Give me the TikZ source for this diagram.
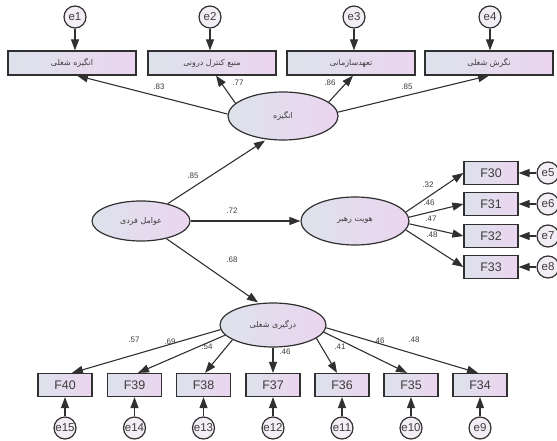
\documentclass[tikz,border=0pt]{standalone}
\usepackage{fontspec}
\setmainfont{Liberation Sans}
\newfontfamily\fa[Script=Arabic]{DejaVu Sans}
\TeXXeTstate=1
\usetikzlibrary{shapes.geometric,arrows.meta}
\definecolor{bl}{HTML}{DDE2EC}
\definecolor{pk}{HTML}{EBD5EF}
\definecolor{ln}{HTML}{303030}
\definecolor{tx}{HTML}{3C3C3C}
\definecolor{errfill}{HTML}{F3EEF5}
\tikzset{
 obs/.style={draw=ln, line width=1.2pt, left color=bl, right color=pk, minimum width=128bp, minimum height=24bp, inner sep=0pt, font=\fa\fontsize{8}{9}\selectfont, text=tx},
 obsf/.style={obs, minimum width=54bp, minimum height=23bp, font=\fontsize{12.5}{13}\selectfont},
 lat/.style={ellipse, draw=ln, line width=1.2pt, left color=bl, right color=pk, inner sep=0pt, font=\fa\fontsize{8}{9}\selectfont, text=tx},
 err/.style={circle, draw=ln, line width=1.2pt, fill=errfill, minimum size=22bp, inner sep=0pt, font=\fontsize{11.5}{12}\selectfont, text=tx},
 arr/.style={draw=ln, line width=1.1pt, -{Triangle[length=11bp,width=8bp]}},
 lab/.style={font=\fontsize{8}{9}\selectfont, text=tx, inner sep=0pt},
}
\begin{document}
\begin{tikzpicture}[x=1bp,y=-1bp]
\useasboundingbox (0,0) rectangle (557,441);
% top observed
\node[obs] (b1) at (72,63) {\beginR انگیزه شغلی\endR};
\node[obs] (b2) at (212,63) {\beginR منبع کنترل درونی\endR};
\node[obs] (b3) at (351,63) {\beginR تعهدسازمانی\endR};
\node[obs] (b4) at (489,63) {\beginR نگرش شغلی\endR};
\node[err] (e1) at (75,17) {e1};
\node[err] (e2) at (210,17) {e2};
\node[err] (e3) at (354,17) {e3};
\node[err] (e4) at (490,17) {e4};
% latents
\node[lat, minimum width=110bp, minimum height=48bp] (ang) at (283,116) {\beginR انگیزه\endR};
\node[lat, minimum width=98bp, minimum height=40bp] (ind) at (141,221) {\beginR عوامل فردی\endR};
\node[lat, minimum width=108bp, minimum height=48bp] (hv) at (355,221) {\beginR هویت رهبر\endR};
\node[lat, minimum width=106bp, minimum height=44bp] (drg) at (273,325) {\beginR درگیری شغلی\endR};
% right observed
\node[obsf] (F30) at (491,173) {F30};
\node[obsf] (F31) at (491,204) {F31};
\node[obsf] (F32) at (491,236) {F32};
\node[obsf] (F33) at (491,267) {F33};
\node[err] (e5) at (548,173) {e5};
\node[err] (e6) at (548,204) {e6};
\node[err] (e7) at (548,236) {e7};
\node[err] (e8) at (548,267) {e8};
% bottom observed
\node[obsf] (F40) at (65,385) {F40};
\node[obsf] (F39) at (134.5,385) {F39};
\node[obsf] (F38) at (203.5,385) {F38};
\node[obsf] (F37) at (273,385) {F37};
\node[obsf] (F36) at (342,385) {F36};
\node[obsf] (F35) at (411,385) {F35};
\node[obsf] (F34) at (480,385) {F34};
\node[err] (e15) at (65,428) {e15};
\node[err] (e14) at (134.5,428) {e14};
\node[err] (e13) at (203.5,428) {e13};
\node[err] (e12) at (273,428) {e12};
\node[err] (e11) at (342,428) {e11};
\node[err] (e10) at (411,428) {e10};
\node[err] (e9) at (480,428) {e9};
% error arrows
\foreach \e/\b in {e1/b1,e2/b2,e3/b3,e4/b4}{\draw[arr] (\e.south) -- (\e.south |- \b.north);}
\foreach \e/\b in {e5/F30,e6/F31,e7/F32,e8/F33}{\draw[arr] (\e) -- (\b);}
\foreach \e/\b in {e15/F40,e14/F39,e13/F38,e12/F37,e11/F36,e10/F35,e9/F34}{\draw[arr] (\e) -- (\b);}
% loadings of angizeh
\draw[arr] (ang.178) -- ([xshift=5bp]b1.south);
\draw[arr] (ang.165) -- ([xshift=4bp]b2.south);
\draw[arr] (ang.17) -- ([xshift=2bp]b3.south);
\draw[arr] (ang.4) -- (b4.south);
% structural
\draw[arr] (ind) -- ([xshift=-18bp]ang.south);
\draw[arr] (ind) -- (hv);
\draw[arr] (ind) -- ([xshift=-15bp]drg.north);
% hv loadings
\draw[arr] (hv.10) -- (F30.west);
\draw[arr] (hv.4) -- (F31.west);
\draw[arr] (hv.-3) -- (F32.west);
\draw[arr] (hv.-10) -- (F33.west);
% drg loadings
\draw[arr] (drg.185) -- ([xshift=7bp]F40.north);
\draw[arr] (drg.192) -- ([xshift=3.5bp]F39.north);
\draw[arr] (drg.200) -- ([xshift=1.5bp]F38.north);
\draw[arr] (drg.south) -- (F37.north);
\draw[arr] (drg.-17) -- ([xshift=-5bp]F36.north);
\draw[arr] (drg.-8) -- ([xshift=-4bp]F35.north);
\draw[arr] (drg.-3) -- ([xshift=-2bp]F34.north);
% labels
\node[lab] (l1) at (159,87) {.83};
\node[lab] (l2) at (238,83) {.77};
\node[lab] (l3) at (330,83) {.86};
\node[lab] (l4) at (407,87) {.85};
\node[lab] (l5) at (193,176) {.85};
\node[lab] (l6) at (232,211) {.72};
\node[lab] (l7) at (232,260) {.68};
\node[lab] (l8) at (428,185) {.32};
\node[lab] (l9) at (429,203) {.46};
\node[lab] (l10) at (431,219) {.47};
\node[lab] (l11) at (432,235) {.48};
\node[lab] (l12) at (134,340) {.57};
\node[lab] (l13) at (170,342) {.69};
\node[lab] (l14) at (207,347) {.54};
\node[lab] (l15) at (285,352) {.46};
\node[lab] (l16) at (340,347) {.41};
\node[lab] (l17) at (379,341) {.46};
\node[lab] (l18) at (414,340) {.48};
\end{tikzpicture}
\end{document}
